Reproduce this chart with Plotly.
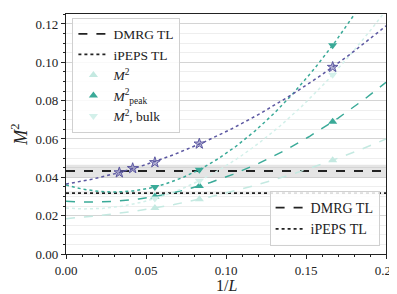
import numpy as np
import plotly.graph_objects as go

# ---- data ----
inv_L_star = [1/30, 1/24, 1/18, 1/12, 1/6]
m2_star = [0.0425, 0.0447, 0.0478, 0.0575, 0.0975]

inv_L = [1/18, 1/12, 1/6]
m2_full = [0.0240, 0.0285, 0.0489]
m2_peak = [0.0300, 0.0355, 0.0690]
m2_bulk_peak = [0.0350, 0.0440, 0.1089]
m2_bulk = [0.0289, 0.0382, 0.0935]

dmrg_tl = 0.0433
dmrg_err = 0.0033
ipeps_tl = 0.0318
ipeps_err = 0.0010

x_ticks = [0.00, 0.05, 0.10, 0.15, 0.20]
y_ticks = [0.00, 0.02, 0.04, 0.06, 0.08, 0.10, 0.12]

PURPLE = "#5b57a1"
TEAL = "#3aaa98"
LIGHT = "#c4e9e1"
LIGHTER = "#d3f0ea"
FONT = "Liberation Serif"

xfit = np.linspace(0, 0.2, 300)


def fit(x, y):
    return np.polyval(np.polyfit(x, y, 2), xfit)


fig = go.Figure()

# error bands
for val, err, alpha in [(dmrg_tl, dmrg_err, 0.10), (ipeps_tl, ipeps_err, 0.05)]:
    fig.add_trace(go.Scatter(x=[0, 0.2, 0.2, 0], y=[val - err, val - err, val + err, val + err],
                             fill="toself", fillcolor=f"rgba(0,0,0,{alpha})", line=dict(width=0),
                             mode="lines", showlegend=False, hoverinfo="skip"))

# TL lines (legend2)
fig.add_trace(go.Scatter(x=[0, 0.2], y=[dmrg_tl, dmrg_tl], mode="lines",
                         line=dict(color="#222", dash="dash", width=1.8), name="DMRG TL",
                         legend="legend2"))
fig.add_trace(go.Scatter(x=[0, 0.2], y=[ipeps_tl, ipeps_tl], mode="lines",
                         line=dict(color="#222", dash="dot", width=1.8), name="iPEPS TL",
                         legend="legend2"))

# fits
fig.add_trace(go.Scatter(x=xfit, y=fit(inv_L, m2_full), mode="lines",
                         line=dict(color=LIGHT, dash="dash", width=1.5), showlegend=False))
fig.add_trace(go.Scatter(x=xfit, y=fit(inv_L, m2_peak), mode="lines",
                         line=dict(color=TEAL, dash="dash", width=1.5), showlegend=False))
fig.add_trace(go.Scatter(x=xfit, y=fit(inv_L, m2_bulk), mode="lines",
                         line=dict(color=LIGHTER, dash="dot", width=1.5), showlegend=False))
fig.add_trace(go.Scatter(x=xfit, y=fit(inv_L, m2_bulk_peak), mode="lines",
                         line=dict(color=TEAL, dash="dot", width=1.5), showlegend=False))
fig.add_trace(go.Scatter(x=xfit, y=fit(inv_L_star, m2_star), mode="lines",
                         line=dict(color=PURPLE, dash="dot", width=1.5), showlegend=False))

# legend-1 entries for TL lines
fig.add_trace(go.Scatter(x=[None], y=[None], mode="lines",
                         line=dict(color="#222", dash="dash", width=1.8), name="DMRG TL"))
fig.add_trace(go.Scatter(x=[None], y=[None], mode="lines",
                         line=dict(color="#222", dash="dot", width=1.8), name="iPEPS TL"))

# markers
fig.add_trace(go.Scatter(x=inv_L, y=m2_full, mode="markers", name="<i>M</i><sup>2</sup>",
                         marker=dict(symbol="triangle-up", size=8, color=LIGHT)))
fig.add_trace(go.Scatter(x=inv_L, y=m2_peak, mode="markers",
                         name="<i>M</i><sup>2</sup><sub>peak</sub>",
                         marker=dict(symbol="triangle-up", size=8, color=TEAL)))
fig.add_trace(go.Scatter(x=inv_L, y=m2_bulk, mode="markers", name="<i>M</i><sup>2</sup>, bulk",
                         marker=dict(symbol="triangle-down", size=8, color=LIGHTER)))
fig.add_trace(go.Scatter(x=inv_L, y=m2_bulk_peak, mode="markers", showlegend=False,
                         marker=dict(symbol="triangle-down", size=8, color=TEAL)))
fig.add_trace(go.Scatter(x=inv_L_star, y=m2_star, mode="markers", showlegend=False,
                         marker=dict(symbol="star", size=8, color="rgba(91,87,161,0.45)",
                                     line=dict(color=PURPLE, width=1))))

fig.update_layout(
    width=397, height=294,
    margin=dict(l=58, r=19, t=6, b=48),
    plot_bgcolor="white", paper_bgcolor="white",
    font=dict(family=FONT, size=13, color="#222"),
    legend=dict(x=0.02, y=0.985, xanchor="left", yanchor="top",
                bgcolor="rgba(255,255,255,0.85)", bordercolor="#d0d0d0", borderwidth=1,
                font=dict(size=13.5), itemwidth=30, tracegroupgap=0),
    legend2=dict(x=0.98, y=0.033, xanchor="right", yanchor="bottom",
                 bgcolor="rgba(255,255,255,0.85)", bordercolor="#d0d0d0", borderwidth=1,
                 font=dict(size=14), itemwidth=30),
    xaxis=dict(range=[0, 0.2], tickvals=x_ticks, ticktext=[f"{v:.2f}" for v in x_ticks],
               showgrid=False, zeroline=False, showline=True, linecolor="#222", linewidth=1.2,
               mirror=True, ticks="outside", ticklen=4, tickcolor="#222",
               minor=dict(dtick=0.01, ticks="outside", ticklen=2, tickcolor="#222", showgrid=False)),
    yaxis=dict(range=[0, 0.1252], tickvals=y_ticks, ticktext=[f"{v:.2f}" for v in y_ticks],
               showgrid=True, gridcolor="#d4d4d4", gridwidth=1.3, zeroline=False,
               showline=True, linecolor="#222", linewidth=1.2, mirror=True,
               ticks="outside", ticklen=4, tickcolor="#222",
               minor=dict(dtick=0.005, ticks="outside", ticklen=2, tickcolor="#222",
                          showgrid=True, gridcolor="#eeeeee", gridwidth=1),
               title=dict(text="<i>M</i><sup>2</sup>", font=dict(size=18), standoff=6)),
    annotations=[dict(text="1/<i>L</i>", xref="paper", yref="paper", x=0.5, y=-0.088,
                      xanchor="center", yanchor="top", showarrow=False,
                      font=dict(size=16, family=FONT, color="#222"))],
)

fig.write_html("out.html")
